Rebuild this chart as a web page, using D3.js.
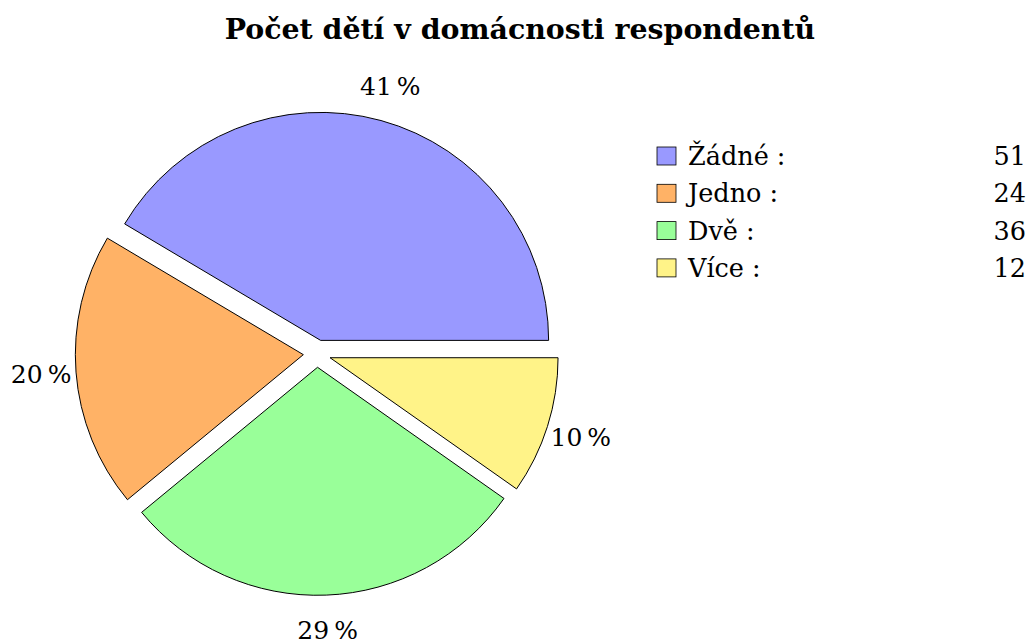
<!DOCTYPE html>
<html lang="cs">
<head>
<meta charset="UTF-8">
<title>Počet dětí v domácnosti respondentů</title>
<script src="https://d3js.org/d3.v7.min.js"></script>
<style>
  body { margin: 0; background: #ffffff; }
  text { font-family: "DejaVu Serif", "Liberation Serif", serif; fill: #000; }
</style>
</head>
<body>
<div id="chart"></div>
<script>
// data
var categories = ["Žádné", "Jedno", "Dvě", "Více"];
var counts = [51, 24, 36, 12];
var colors = ["#9999ff", "#ffb266", "#99ff99", "#fff388"];
var title = "Počet dětí v domácnosti respondentů";

var W = 1031, H = 641;
var cx = 317, cy = 353.6, radius = 228, explode = 13.7, labelR = 263;

var svg = d3.select("#chart").append("svg")
    .attr("width", W)
    .attr("height", H);

svg.append("text")
    .attr("x", 520)
    .attr("y", 39)
    .attr("text-anchor", "middle")
    .style("font-size", "28.4px")
    .style("font-weight", "bold")
    .text(title);

var total = d3.sum(counts);
var rows = categories.map(function(c, i) { return {name: c, value: counts[i], color: colors[i]}; });

// start at east, go counter-clockwise (d3 angles are clockwise from north)
var pie = d3.pie()
    .sort(null)
    .value(function(d) { return d.value; })
    .startAngle(Math.PI / 2)
    .endAngle(Math.PI / 2 - 2 * Math.PI);

var arc = d3.arc().innerRadius(0).outerRadius(radius);
var arcs = pie(rows);

function midDir(d) {
  var a = (d.startAngle + d.endAngle) / 2;
  return [Math.sin(a), -Math.cos(a)];
}

var g = svg.append("g").attr("transform", "translate(" + cx + "," + cy + ")");

var slice = g.selectAll("g.slice")
  .data(arcs)
  .enter().append("g")
    .attr("class", "slice")
    .attr("transform", function(d) {
      var m = midDir(d);
      return "translate(" + (m[0] * explode) + "," + (m[1] * explode) + ")";
    });

slice.append("path")
    .attr("d", arc)
    .attr("fill", function(d) { return d.data.color; })
    .attr("stroke", "#000")
    .attr("stroke-width", 1)
    .attr("stroke-linejoin", "round");

slice.append("text")
    .attr("x", function(d) { return midDir(d)[0] * labelR; })
    .attr("y", function(d) { return midDir(d)[1] * labelR; })
    .attr("text-anchor", "middle")
    .attr("dominant-baseline", "central")
    .style("font-size", "25px")
    .text(function(d) { return Math.round(d.data.value / total * 100) + "\u2009%"; });

// legend
var legend = svg.append("g").attr("transform", "translate(657,147)");
var item = legend.selectAll("g")
  .data(rows)
  .enter().append("g")
    .attr("transform", function(d, i) { return "translate(0," + (i * 37.3) + ")"; });

item.append("rect")
    .attr("width", 19)
    .attr("height", 18)
    .attr("fill", function(d) { return d.color; })
    .attr("stroke", "#000")
    .attr("stroke-width", 0.8);

item.append("text")
    .attr("x", 31)
    .attr("y", 18)
    .style("font-size", "25.5px")
    .text(function(d) { return d.name + " :"; });

item.append("text")
    .attr("x", 369)
    .attr("y", 18)
    .attr("text-anchor", "end")
    .style("font-size", "25.5px")
    .text(function(d) { return d.value; });
</script>
</body>
</html>
